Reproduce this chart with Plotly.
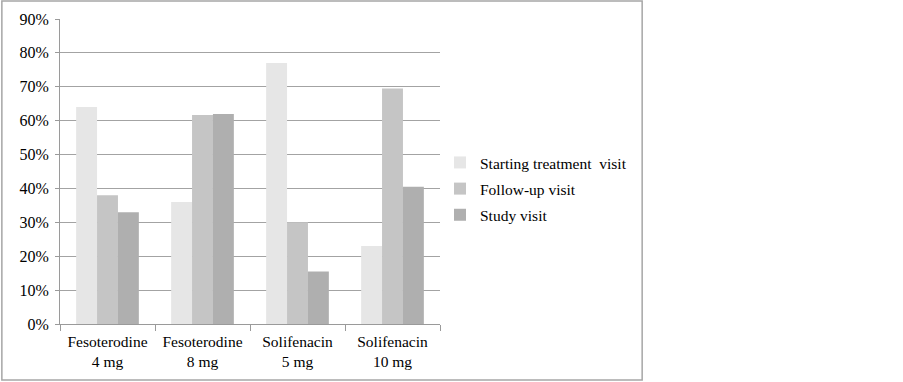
import plotly.graph_objects as go

categories = ["Fesoterodine<br>4 mg", "Fesoterodine<br>8 mg", "Solifenacin<br>5 mg", "Solifenacin<br>10 mg"]
series_names = ["Starting treatment  visit", "Follow-up visit", "Study visit"]
starting = [64, 36, 77, 23]
follow_up = [38, 61.7, 30, 69.5]
study = [33, 62, 15.5, 40.5]
colors = ["#e6e6e6", "#c5c5c5", "#afafaf"]
y_ticks = [0, 10, 20, 30, 40, 50, 60, 70, 80, 90]

FONT = "Liberation Serif"

fig = go.Figure()
for i, (name, vals, c) in enumerate(zip(series_names, [starting, follow_up, study], colors)):
    fig.add_trace(go.Bar(x=categories, y=vals, name=name, legendgroup=f"g{i}",
                         marker=dict(color=c, line=dict(width=0))))

fig.update_layout(
    width=903, height=382,
    margin=dict(l=60, r=463, t=19, b=58),
    paper_bgcolor="white", plot_bgcolor="white",
    barmode="group", bargap=0.34, bargroupgap=0,
    font=dict(family=FONT, size=16, color="#000000"),
    showlegend=True,
    legend=dict(x=1.0, y=0.443, xanchor="left", yanchor="middle",
                font=dict(family=FONT, size=15.5), itemwidth=30,
                bgcolor="rgba(0,0,0,0)", tracegroupgap=3),
    xaxis=dict(showgrid=False, showline=True, linecolor="#9a9a9a", linewidth=1,
               ticks="outside", tickson="boundaries", ticklen=6, tickcolor="#9a9a9a",
               ticklabelstandoff=3,
               tickfont=dict(family=FONT, size=15.5)),
    yaxis=dict(range=[0, 90], tickvals=y_ticks, ticktext=[f"{v}%" for v in y_ticks],
               showgrid=True, gridcolor="#a3a3a3", gridwidth=1,
               showline=True, linecolor="#9a9a9a", linewidth=1,
               ticks="outside", ticklen=4, tickcolor="#9a9a9a",
               ticklabelstandoff=3,
               zeroline=False, tickfont=dict(family=FONT, size=16)),
    shapes=[dict(type="rect", xref="paper", yref="paper",
                 x0=-0.153, x1=1.532, y0=-0.184, y1=1.059,
                 line=dict(color="#a6a6a6", width=1.5), fillcolor="rgba(0,0,0,0)", layer="below")],
)

fig.write_html("out.html", config={"displayModeBar": False},
               post_script="document.body.style.margin='0';")
